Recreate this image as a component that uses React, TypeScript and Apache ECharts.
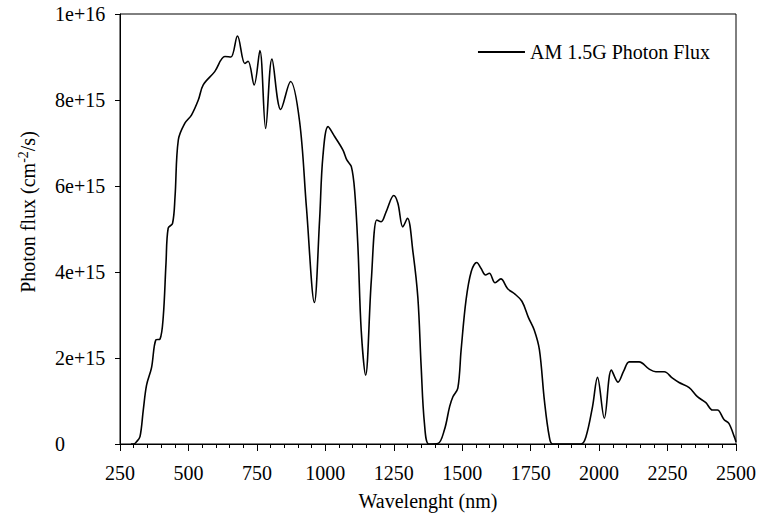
import React, { useEffect, useRef } from "react";
import * as echarts from "echarts";

const wavelengths = [290, 300, 310, 323, 335, 347, 365, 381, 396, 408, 418, 426, 442, 451, 463, 487, 511, 536, 554, 596, 633, 655, 679, 706, 718, 740, 761, 782, 805, 837, 873, 906, 931, 960, 979, 991, 1010, 1034, 1064, 1079, 1095, 1107, 1119, 1131, 1147, 1168, 1188, 1204, 1222, 1250, 1265, 1283, 1300, 1320, 1338, 1350, 1362, 1378, 1411, 1435, 1454, 1466, 1484, 1496, 1514, 1533, 1553, 1569, 1585, 1599, 1620, 1641, 1666, 1690, 1718, 1742, 1763, 1782, 1800, 1818, 1830, 1934, 1952, 1976, 1994, 2019, 2045, 2069, 2090, 2110, 2146, 2183, 2207, 2238, 2268, 2292, 2329, 2359, 2390, 2414, 2432, 2456, 2474, 2496, 2500];

// photon flux in units of 1e15 cm^-2/s
const fluxE15 = [0, 0, 0.05, 0.17, 0.79, 1.37, 1.77, 2.42, 2.44, 2.96, 4.2, 5.02, 5.13, 5.75, 7.07, 7.46, 7.65, 8.0, 8.35, 8.66, 9.01, 9.0, 9.49, 8.85, 8.9, 8.35, 9.15, 7.34, 8.95, 7.78, 8.43, 7.5, 5.5, 3.29, 5.21, 6.68, 7.38, 7.15, 6.84, 6.6, 6.45, 5.9, 4.59, 2.65, 1.6, 3.81, 5.21, 5.17, 5.4, 5.78, 5.6, 5.05, 5.25, 4.47, 3.4, 1.8, 0.48, 0, 0.01, 0.33, 0.87, 1.1, 1.3, 2.19, 3.35, 4.01, 4.22, 4.08, 3.93, 3.97, 3.75, 3.84, 3.61, 3.5, 3.32, 2.94, 2.65, 2.19, 1.02, 0.17, 0, 0, 0.17, 0.87, 1.55, 0.6, 1.72, 1.44, 1.7, 1.91, 1.91, 1.74, 1.68, 1.68, 1.53, 1.43, 1.31, 1.1, 0.96, 0.79, 0.79, 0.57, 0.48, 0.13, 0.05];

const xTicks = [250, 500, 750, 1000, 1250, 1500, 1750, 2000, 2250, 2500];
const yTicks = [0, 2e15, 4e15, 6e15, 8e15, 1e16];

const seriesName = "AM 1.5G Photon Flux";
const xTitle = "Wavelenght (nm)";

const FONT = "'Liberation Serif', 'Times New Roman', serif";
const FS = 20;

export default function App() {
  const ref = useRef<HTMLDivElement>(null);
  useEffect(() => {
    if (!ref.current) return;
    const chart = echarts.init(ref.current, undefined, { renderer: "svg" });
    const data = wavelengths.map((w, i) => [w, fluxE15[i] * 1e15]);
    chart.setOption({
      animation: false,
      backgroundColor: "#fff",
      textStyle: { fontFamily: FONT },
      grid: { left: 120, right: 22, top: 14, bottom: 74, show: true, borderColor: "#000", borderWidth: 1 },
      legend: {
        right: 44,
        top: 37,
        itemWidth: 47,
        itemHeight: 2,
        itemGap: 10,
        icon: "rect",
        textStyle: { fontFamily: FONT, fontSize: FS, color: "#000" },
        data: [{ name: seriesName, itemStyle: { color: "#000" } }],
      },
      xAxis: {
        type: "value",
        min: xTicks[0],
        max: xTicks[xTicks.length - 1],
        interval: 250,
        name: xTitle,
        nameLocation: "middle",
        nameGap: 47,
        nameTextStyle: { fontFamily: FONT, fontSize: FS, color: "#000" },
        axisLine: { onZero: false, lineStyle: { color: "#000", width: 1 } },
        axisTick: { show: true, inside: false, length: 7, lineStyle: { color: "#000" } },
        minorTick: { show: true, splitNumber: 5, length: 4, lineStyle: { color: "#000" } },
        splitLine: { show: false },
        axisLabel: {
          fontFamily: FONT,
          fontSize: FS,
          color: "#000",
          margin: 19,
          formatter: (v: number) => String(v),
        },
      },
      yAxis: {
        type: "value",
        min: yTicks[0],
        max: yTicks[yTicks.length - 1],
        interval: 2e15,
        axisLine: { show: true, lineStyle: { color: "#000", width: 1 } },
        axisTick: { show: true, inside: false, length: 5, lineStyle: { color: "#000" } },
        splitLine: { show: false },
        axisLabel: {
          fontFamily: FONT,
          fontSize: FS,
          color: "#000",
          align: "left",
          margin: 65,
          formatter: (v: number) => (v === 0 ? "0" : v.toExponential(0)),
        },
      },
      graphic: [
        {
          type: "text",
          x: 28,
          y: 212,
          rotation: Math.PI / 2,
          style: {
            text: "Photon flux (cm{sup|-2}/s)",
            fontFamily: FONT,
            fontSize: FS,
            fill: "#000",
            align: "center",
            verticalAlign: "middle",
            rich: {
              sup: { fontFamily: FONT, fontSize: 14, fill: "#000", verticalAlign: "top", padding: [0, 0, 10, 0] },
            },
          },
        },
      ],
      series: [
        {
          name: seriesName,
          type: "line",
          data,
          smooth: 0.35,
          symbol: "none",
          showSymbol: false,
          lineStyle: { color: "#000", width: 1.6 },
          itemStyle: { color: "#000" },
        },
      ],
    });
    return () => chart.dispose();
  }, []);
  return <div ref={ref} style={{ width: 759, height: 518, position: "absolute", left: 0, top: 0 }} />;
}
